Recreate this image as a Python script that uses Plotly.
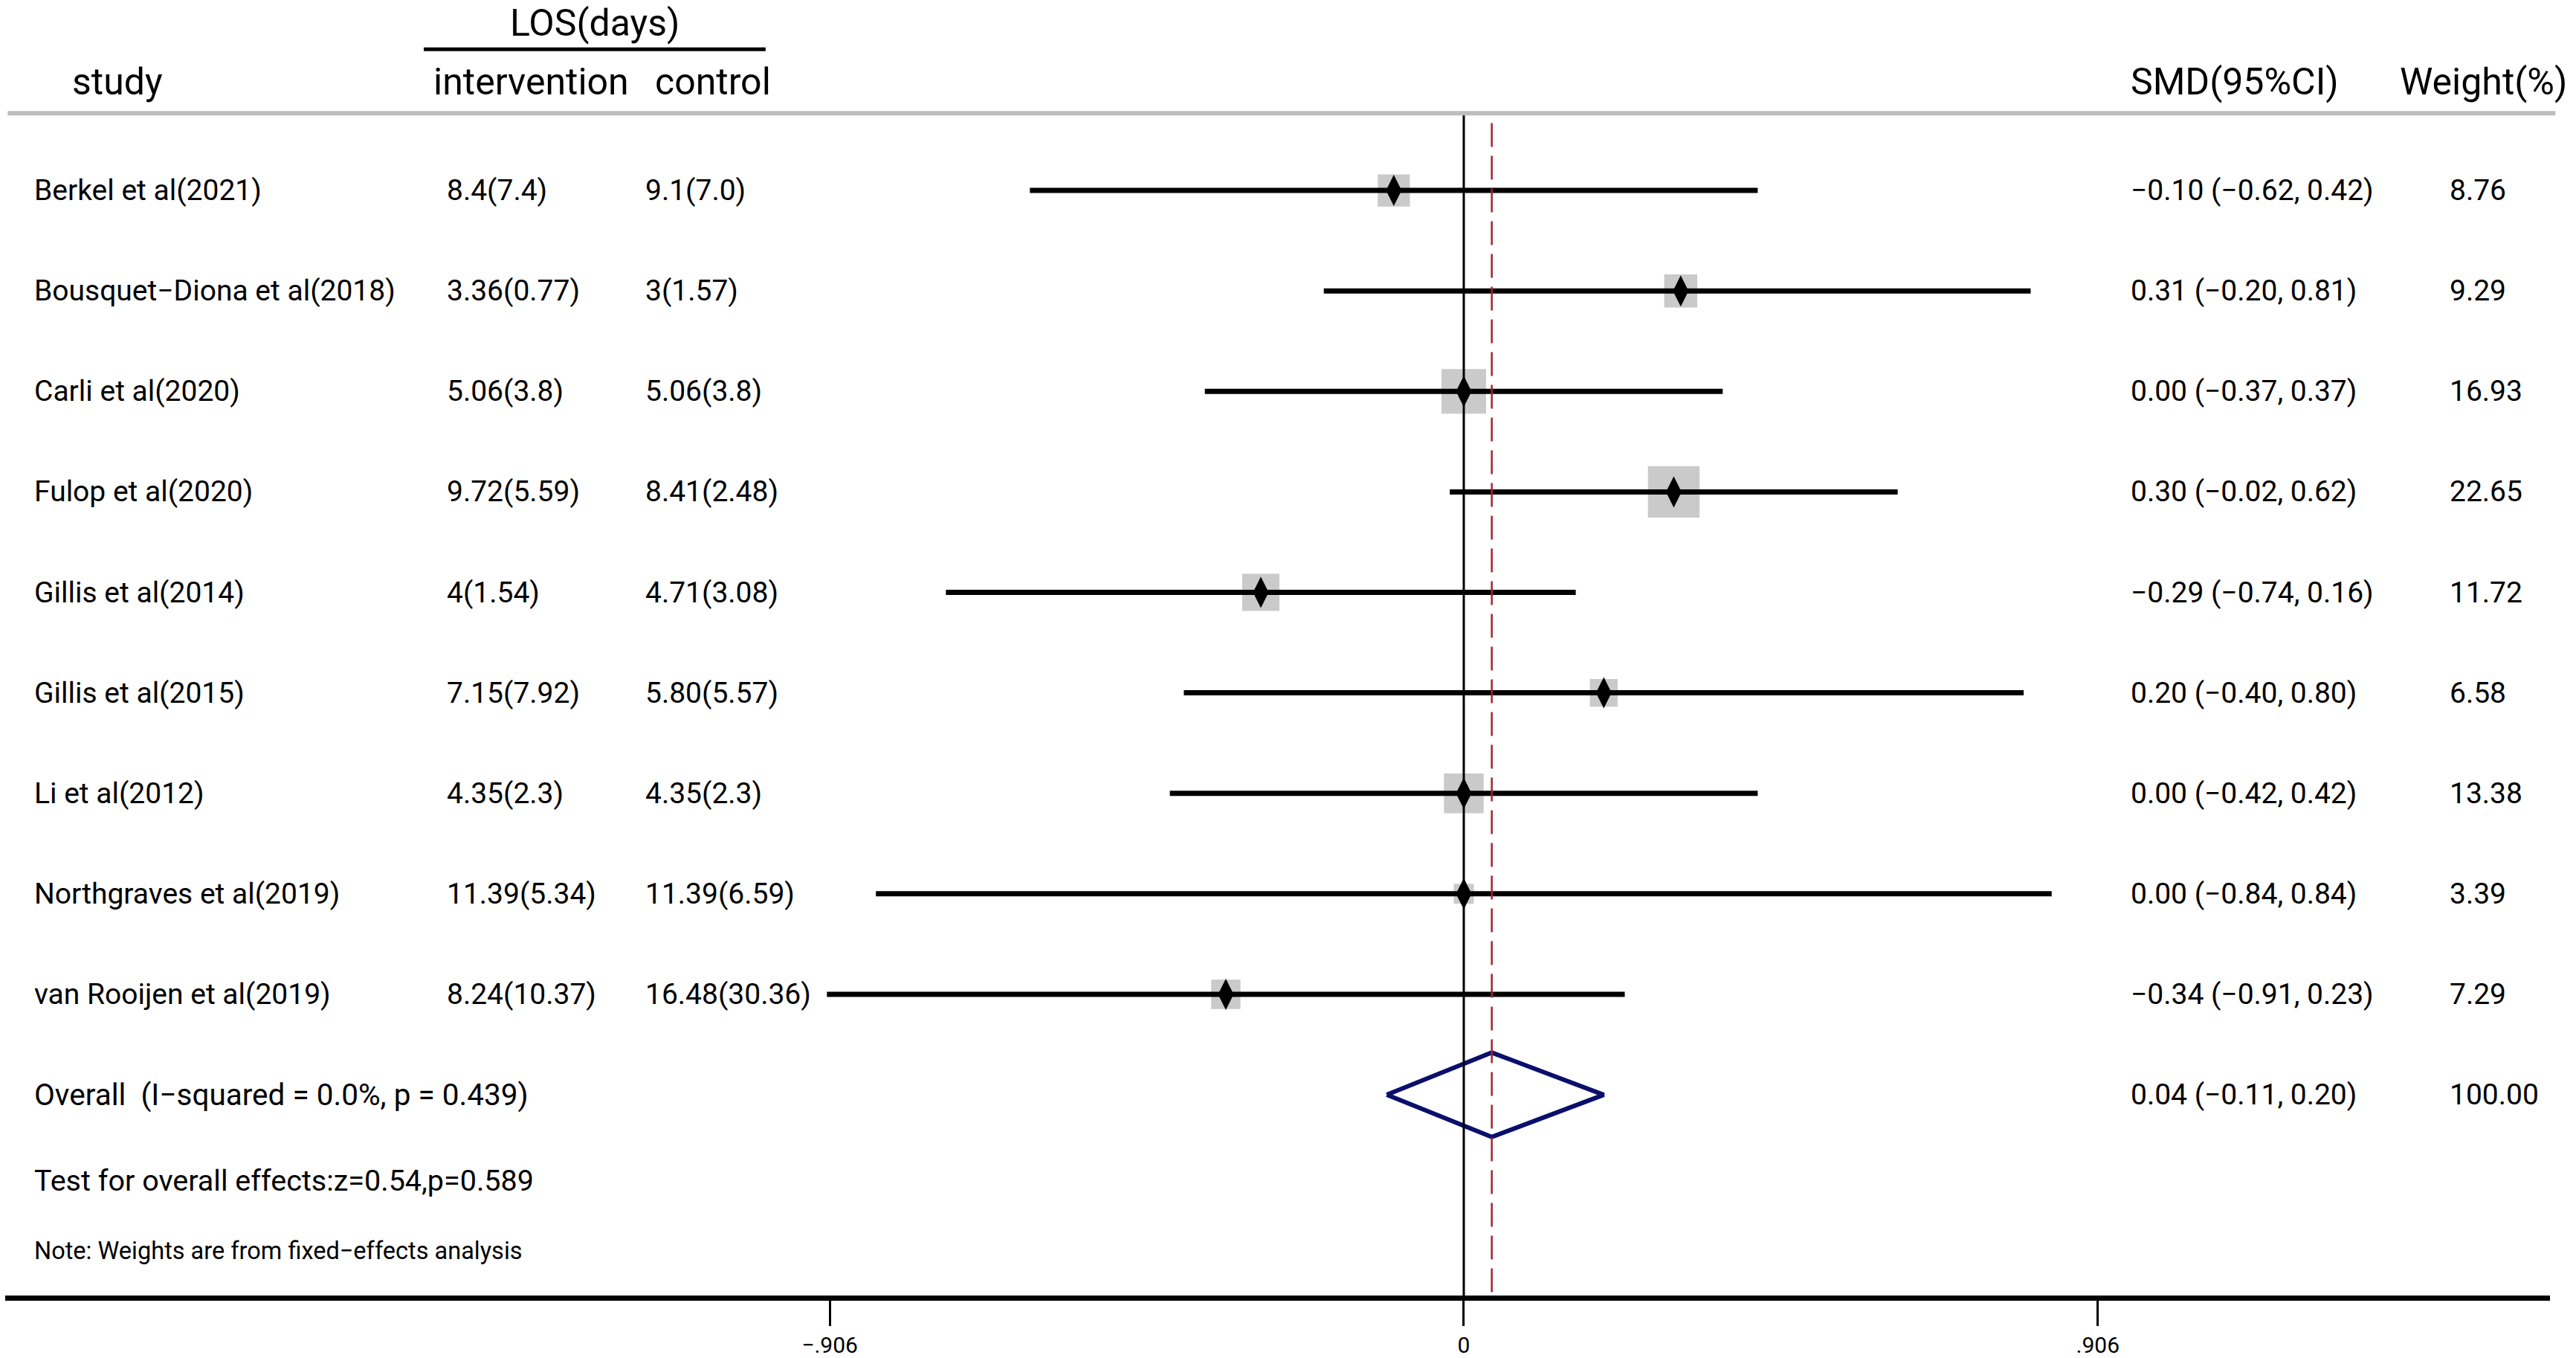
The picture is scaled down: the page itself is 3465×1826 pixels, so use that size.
import plotly.graph_objects as go

# study rows
studies = ["Berkel et al(2021)", "Bousquet\u2212Diona et al(2018)", "Carli et al(2020)",
           "Fulop et al(2020)", "Gillis et al(2014)", "Gillis et al(2015)",
           "Li et al(2012)", "Northgraves et al(2019)", "van Rooijen et al(2019)"]
intervention = ["8.4(7.4)", "3.36(0.77)", "5.06(3.8)", "9.72(5.59)", "4(1.54)",
                "7.15(7.92)", "4.35(2.3)", "11.39(5.34)", "8.24(10.37)"]
control = ["9.1(7.0)", "3(1.57)", "5.06(3.8)", "8.41(2.48)", "4.71(3.08)",
           "5.80(5.57)", "4.35(2.3)", "11.39(6.59)", "16.48(30.36)"]
smd = [-0.10, 0.31, 0.00, 0.30, -0.29, 0.20, 0.00, 0.00, -0.34]
lower = [-0.62, -0.20, -0.37, -0.02, -0.74, -0.40, -0.42, -0.84, -0.91]
upper = [0.42, 0.81, 0.37, 0.62, 0.16, 0.80, 0.42, 0.84, 0.23]
weight = [8.76, 9.29, 16.93, 22.65, 11.72, 6.58, 13.38, 3.39, 7.29]

overall = 0.04
overall_lo = -0.11
overall_hi = 0.20
overall_weight = 100.00
overall_label = "Overall  (I\u2212squared = 0.0%, p = 0.439)"
test_label = "Test for overall effects:z=0.54,p=0.589"
note_label = "Note: Weights are from fixed\u2212effects analysis"
tick_vals = [-0.906, 0, 0.906]
tick_text = ["\u2212.906", "0", ".906"]

FONT = "Roboto"
W, H = 3465, 1826
ROW_SIZE = 39
HEAD_SIZE = 50

rows = list(range(len(studies)))
n = len(studies)


def fmt(v):
    return ("%.2f" % v).replace("-", "\u2212")


fig = go.Figure()

# weight boxes
fig.add_trace(go.Scatter(
    x=smd, y=rows, mode="markers",
    marker=dict(symbol="square", color="#b4b4b4",
                size=[14.6 * w ** 0.5 for w in weight], line=dict(width=0)),
    hoverinfo="skip"))

# confidence intervals
ci_x, ci_y = [], []
for i in rows:
    ci_x += [lower[i], upper[i], None]
    ci_y += [i, i, None]
fig.add_trace(go.Scatter(x=ci_x, y=ci_y, mode="lines",
                         line=dict(color="black", width=7), hoverinfo="skip"))

# point estimates
fig.add_trace(go.Scatter(
    x=smd, y=rows, mode="markers",
    marker=dict(symbol="diamond-tall", color="black", size=30, line=dict(width=0)),
    hoverinfo="skip"))

# overall diamond
h = 0.42
fig.add_trace(go.Scatter(
    x=[overall_lo, overall, overall_hi, overall, overall_lo],
    y=[n, n - h, n, n + h, n], mode="lines",
    line=dict(color="#0b0f6b", width=6), hoverinfo="skip"))

shapes = []
# null line
shapes.append(dict(type="line", xref="x", yref="y", x0=0, x1=0, y0=-0.768, y1=11.0,
                   line=dict(color="black", width=3)))
# overall effect line
shapes.append(dict(type="line", xref="x", yref="y", x0=overall, x1=overall, y0=-0.67, y1=11.0,
                   line=dict(color="#a3232b", width=2.5, dash="32px,12px")))
# header rule
shapes.append(dict(type="line", xref="paper", yref="y", x0=0.003, x1=0.992, y0=-0.768, y1=-0.768,
                   line=dict(color="#bdbdbd", width=6)))
# LOS underline
shapes.append(dict(type="line", xref="paper", yref="y", x0=0.1645, x1=0.2972, y0=-1.405, y1=-1.405,
                   line=dict(color="black", width=5)))

ann = []


def txt(x, y, s, size=ROW_SIZE, anchor="left"):
    ann.append(dict(x=x, y=y, xref="paper", yref="y", text=s, showarrow=False,
                    xanchor=anchor, yanchor="middle",
                    font=dict(family=FONT, size=size, color="black")))


# headers
txt(0.2309, -1.667, "LOS(days)", HEAD_SIZE, "center")
txt(0.0274, -1.078, "study", HEAD_SIZE)
txt(0.1677, -1.078, "intervention", HEAD_SIZE)
txt(0.2538, -1.078, "control", HEAD_SIZE)
txt(0.8265, -1.078, "SMD(95%CI)", HEAD_SIZE)
txt(0.931, -1.078, "Weight(%)", HEAD_SIZE)

for i in rows:
    txt(0.01276, i, studies[i])
    txt(0.1728, i, intervention[i])
    txt(0.25, i, control[i])
    txt(0.8265, i, "%s (%s, %s)" % (fmt(smd[i]), fmt(lower[i]), fmt(upper[i])))
    txt(0.9503, i, "%.2f" % weight[i])

txt(0.01276, n, overall_label, 40.5)
txt(0.8265, n, "%s (%s, %s)" % (fmt(overall), fmt(overall_lo), fmt(overall_hi)))
txt(0.9503, n, "%.2f" % overall_weight)
txt(0.01276, 9.853, test_label, 39.5)
txt(0.01276, 10.556, note_label, 32.5)

dom_l, dom_r = 0.002, 0.99
px_unit = 426 * W / 1568.0
zero_px = 891 * W / 1568.0
x_lo = (dom_l * W - zero_px) / px_unit
x_hi = (dom_r * W - zero_px) / px_unit

fig.update_layout(
    width=W, height=H,
    margin=dict(l=0, r=0, t=0, b=0),
    paper_bgcolor="white", plot_bgcolor="white",
    showlegend=False, hovermode=False,
    shapes=shapes, annotations=ann,
    xaxis=dict(domain=[dom_l, dom_r], range=[x_lo, x_hi], showgrid=False, zeroline=False,
               showline=True, linecolor="black", linewidth=7,
               tickmode="array", tickvals=tick_vals, ticktext=tick_text,
               ticks="outside", ticklen=34, tickwidth=3, tickcolor="black",
               tickfont=dict(family=FONT, size=30, color="black")),
    yaxis=dict(domain=[1 - 789 / 826.0, 1], range=[11.0, -1.895], visible=False,
               showgrid=False, zeroline=False),
)

fig.write_html("out.html", config={"displayModeBar": False},
               post_script="document.body.style.margin='0';")
